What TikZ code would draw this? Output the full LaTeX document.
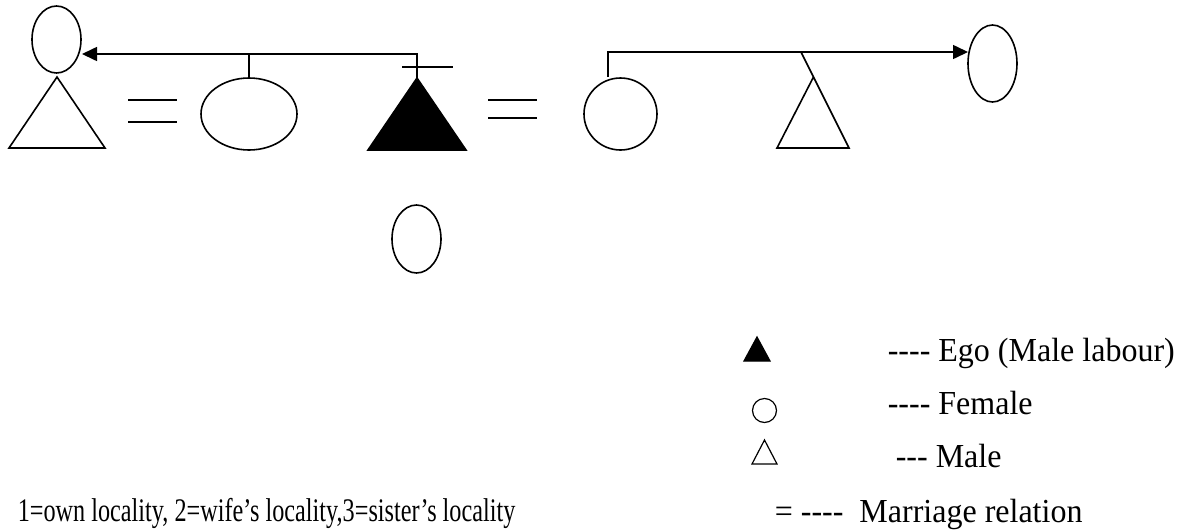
\documentclass[tikz,border=0pt]{standalone}
\usepackage{fontspec}
\setmainfont{Liberation Serif}
\usepackage{graphicx}
\usetikzlibrary{shapes.geometric,arrows.meta}
\newcommand{\tallish}[1]{\scalebox{1}[1.05]{#1}}
\begin{document}
\begin{tikzpicture}[x=1pt,y=-1pt,
  line width=1.6pt, line join=miter,
  fem/.style={draw, ellipse, inner sep=0pt, line width=1.6pt},
  conn/.style={line width=1.6pt},
  arr/.style={conn,-{Triangle[length=15pt,width=14pt]}},
  lbl/.style={anchor=base west, inner sep=0pt, font=\fontsize{32}{38}\selectfont},
  leg/.style={line width=1.2pt}]
\path[use as bounding box] (0,0) rectangle (1179,531);

% ---- top-left: female above, male below
\node[fem, minimum width=49pt, minimum height=67pt] (fL) at (56.5,39.5) {};
\draw (57,77) -- (9,148) -- (105,148) -- cycle;
\draw (128,100) -- (177,100) (128,122) -- (177,122);

% ---- sister
\node[fem, minimum width=96pt, minimum height=72pt] (sis) at (249,114) {};

% ---- ego
\coordinate (egoTop) at (417,78);
\filldraw (417,78) -- (368,150) -- (466,150) -- cycle;
\draw (402,67) -- (453,67);
\coordinate (tipL) at (82,54);
\coordinate (sisJ) at (249,54);
\draw[arr] (egoTop) -- (417,54) -- (tipL);
\draw[conn] (sisJ) -- (sis.north);

% ---- wife
\draw (488,100) -- (537,100) (488,118) -- (537,118);
\node[fem, minimum width=73pt, minimum height=72pt] (wife) at (620.5,114) {};

% ---- wife's brother and right female
\node[fem, minimum width=49pt, minimum height=77pt] (fR) at (992.5,63.5) {};
\coordinate (tipR) at (968,52);
\coordinate (wJ) at (608,77);
\draw[arr] (wJ) -- (608,52) -- (tipR);
\draw[line width=2.3pt] (897,52) -- (920,52);
\coordinate (bTop) at (801,52);
\draw (bTop) -- (849,148) -- (777,148) -- (813.5,77);

% ---- lower female
\node[fem, minimum width=49pt, minimum height=68pt] (fLow) at (416.5,239) {};

% ---- legend
\filldraw[leg] (757,337) -- (744,361) -- (770,361) -- cycle;
\draw[leg] (764.5,410.5) circle (12pt);
\draw[leg] (764.5,440) -- (752,464) -- (777,464) -- cycle;
\node[lbl] (l1) at (887,361) {\tallish{-{}-{}-{}- Ego (Male labour)}};
\node[lbl] (l2) at (887,414) {\tallish{-{}-{}-{}- Female}};
\node[lbl] (l3) at (895,467) {\tallish{-{}-{}- Male}};
\node[lbl] (l4) at (774,522) {\tallish{= -{}-{}-{}-\ \ Marriage relation}};
\node[lbl] (note) at (17,521) {\scalebox{0.757}[1.03]{1=own locality, 2=wife’s locality,3=sister’s locality}};
\end{tikzpicture}
\end{document}
